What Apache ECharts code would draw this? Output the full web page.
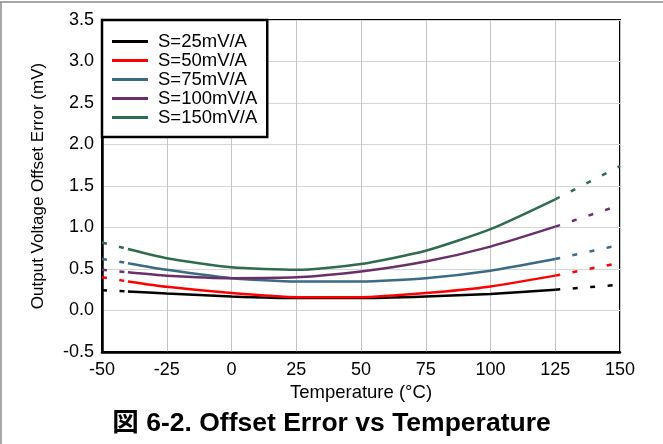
<!DOCTYPE html>
<html><head><meta charset="utf-8">
<script src="https://cdn.jsdelivr.net/npm/echarts@6/dist/echarts.min.js"></script>
<style>html,body{margin:0;padding:0;background:#fff}#c{width:663px;height:444px}</style>
</head><body><div id="c"></div>
<script>
// Measured temperatures (°C) for solid curves
const temps = [-40, -25, 0, 25, 50, 75, 100, 125];
const seriesNames = ['S=25mV/A', 'S=50mV/A', 'S=75mV/A', 'S=100mV/A', 'S=150mV/A'];
const s25  = [0.23, 0.205, 0.17, 0.15, 0.15, 0.17, 0.20, 0.25];
const s50  = [0.35, 0.285, 0.21, 0.16, 0.16, 0.21, 0.29, 0.42];
const s75  = [0.57, 0.49, 0.39, 0.35, 0.35, 0.39, 0.48, 0.62];
const s100 = [0.46, 0.42, 0.39, 0.40, 0.47, 0.59, 0.77, 1.01];
const s150 = [0.74, 0.63, 0.52, 0.49, 0.56, 0.72, 0.98, 1.34];
// Extrapolated (dashed) end values
const lowTemp = -50;
const highTemp = 150;
const lowVals  = [0.245, 0.40, 0.62, 0.49, 0.82];
const highVals = [0.31, 0.575, 0.79, 1.27, 1.74];
const xTicks = [-50, -25, 0, 25, 50, 75, 100, 125, 150];
const yTicks = [-0.5, 0.0, 0.5, 1.0, 1.5, 2.0, 2.5, 3.0, 3.5];

const colors = ['#000000', '#ff0000', '#3a6a84', '#6a2f6a', '#2f6b4f'];
const allVals = [s25, s50, s75, s100, s150];
const FONT = "'Liberation Sans', Arial, 'Noto Sans CJK JP', sans-serif";

const series = [];
allVals.forEach((vals, k) => {
  const c = colors[k];
  series.push({
    name: seriesNames[k], type: 'line', symbol: 'none', smooth: 0.2,
    lineStyle: {color: c, width: 2.5}, itemStyle: {color: c},
    data: temps.map((t, i) => [t, vals[i]]), z: 3 + k
  });
  series.push({
    name: seriesNames[k] + ' low', type: 'line', symbol: 'none',
    lineStyle: {color: c, width: 2.5, type: [5, 12.5]},
    data: [[lowTemp, lowVals[k]], [temps[0], vals[0]]], z: 3 + k
  });
  series.push({
    name: seriesNames[k] + ' high', type: 'line', symbol: 'none',
    lineStyle: {color: c, width: 2.5, type: [5, 12.5]},
    data: [[temps[temps.length - 1], vals[vals.length - 1]], [highTemp, highVals[k]]], z: 3 + k
  });
});

const chart = echarts.init(document.getElementById('c'), null, {renderer: 'canvas'});
chart.setOption({
  animation: false,
  backgroundColor: '#fff',
  textStyle: {fontFamily: FONT},
  title: {
    text: '図 6-2. Offset Error vs Temperature',
    left: 'center', top: 405,
    textStyle: {fontFamily: FONT, fontWeight: 'bold', fontSize: 26.5, color: '#000'}
  },
  grid: {left: 102, right: 43, top: 20, bottom: 92, show: true, borderColor: '#000', borderWidth: 2},
  legend: {
    data: seriesNames, orient: 'vertical', left: 102, top: 20,
    icon: 'rect', itemWidth: 36, itemHeight: 3, itemGap: 0,
    padding: [12, 10, 10, 10],
    backgroundColor: '#fff', borderColor: '#000', borderWidth: 2.5,
    textStyle: {fontFamily: FONT, fontSize: 18.5, color: '#000', lineHeight: 19, padding: [0, 0, 0, 5]},
    selectedMode: false, z: 10
  },
  xAxis: {
    type: 'value', min: xTicks[0], max: xTicks[xTicks.length - 1], interval: 25,
    name: 'Temperature (°C)', nameLocation: 'middle', nameGap: 30,
    nameTextStyle: {fontFamily: FONT, fontSize: 18.5, color: '#000'},
    axisLine: {onZero: false, lineStyle: {color: '#000', width: 2.5}},
    axisTick: {show: false},
    axisLabel: {fontFamily: FONT, fontSize: 18, color: '#000', margin: 9},
    splitLine: {lineStyle: {color: '#c4c4c4', width: 1}}
  },
  yAxis: {
    type: 'value', min: yTicks[0], max: yTicks[yTicks.length - 1], interval: 0.5,
    name: 'Output Voltage Offset Error (mV)', nameLocation: 'middle', nameGap: 55,
    nameTextStyle: {fontFamily: FONT, fontSize: 17, color: '#000'},
    axisLine: {onZero: false, lineStyle: {color: '#000', width: 2.5}},
    axisTick: {show: false},
    axisLabel: {fontFamily: FONT, fontSize: 18, color: '#000', margin: 8, formatter: v => v.toFixed(1)},
    splitLine: {lineStyle: {color: '#d6d6d6', width: 1}}
  },
  graphic: [
    {type: 'line', shape: {x1: 0, y1: 2, x2: 663, y2: 2}, style: {stroke: '#8a8a8a', lineWidth: 1.5}, silent: true},
    {type: 'line', shape: {x1: 1, y1: 2, x2: 1, y2: 444}, style: {stroke: '#8a8a8a', lineWidth: 1.5}, silent: true}
  ],
  series: series
});
</script></body></html>
